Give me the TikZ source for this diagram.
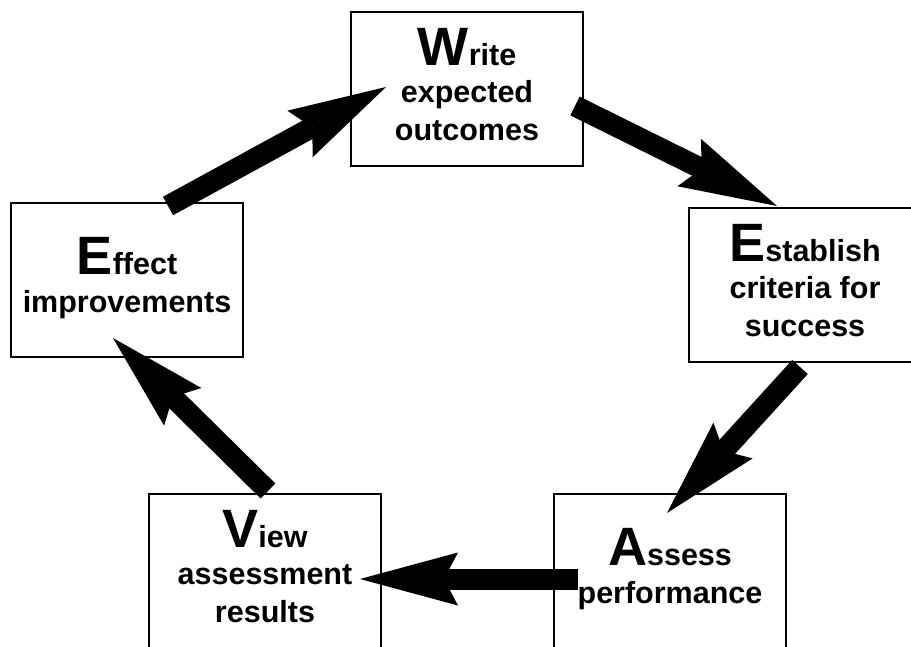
\documentclass[tikz,border=0pt]{standalone}
\usepackage{fontspec}
\setmainfont{Liberation Sans}
\usetikzlibrary{arrows.meta}

\newcommand{\firstletter}[1]{{\fontsize{54}{54}\selectfont #1}}

\tikzset{
  stepbox/.style={draw, line width=1.2pt, minimum width=232pt, minimum height=154pt,
    inner sep=0pt, text depth=10pt, align=center,
    font=\bfseries\fontsize{30.5}{37.5}\selectfont},
  bigarrow/.style={line width=21pt,
    -{Stealth[length=98pt, width=53pt, inset=14pt, line width=0pt]}}
}

\begin{document}
\begin{tikzpicture}[x=1pt,y=-1pt]
    \clip (0,0) rectangle (911,647);

    % the five steps
    \node[stepbox] (write) at (467,89) {\firstletter{W}rite\\expected\\outcomes};
    \node[stepbox] (establish) at (805,285) {\firstletter{E}stablish\\criteria for\\success};
    \node[stepbox] (assess) at (670,571) {\firstletter{A}ssess\\performance};
    \node[stepbox] (view) at (265,571) {\firstletter{V}iew\\assessment\\results};
    \node[stepbox] (effect) at (127,280) {\firstletter{E}ffect\\improvements};

    \coordinate (effect_out) at (168,206);
    \coordinate (write_in) at (386,87);
    \coordinate (write_out) at (575,106);
    \coordinate (establish_in) at (777,206);
    \coordinate (establish_out) at (800,367);
    \coordinate (assess_in) at (667,513);
    \coordinate (assess_out) at (578,579);
    \coordinate (view_in) at (360,579);
    \coordinate (view_out) at (268,491);
    \coordinate (effect_in) at (113,338);

    \draw[bigarrow] (effect_out) -- (write_in);
    \draw[bigarrow] (write_out) -- (establish_in);
    \draw[bigarrow] (establish_out) -- (assess_in);
    \draw[bigarrow] (assess_out) -- (view_in);
    \draw[bigarrow] (view_out) -- (effect_in);
\end{tikzpicture}
\end{document}
